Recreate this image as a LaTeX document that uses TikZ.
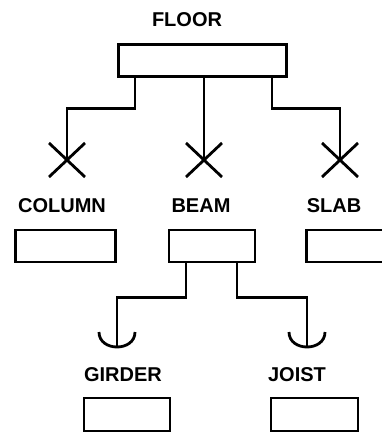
\documentclass[tikz,border=0pt]{standalone}
\usepackage{fontspec}
\setmainfont{Liberation Sans}
\begin{document}
\begin{tikzpicture}[x=1pt, y=-1pt, line width=2.8pt,
    box/.style={draw, inner sep=0pt, minimum height=32pt},
    tagtext/.style={inner sep=0pt, font=\fontsize{20}{20}\selectfont\bfseries}]
    % picture frame
    \useasboundingbox (0, 0) rectangle (382, 433);
    \clip (0, 0) rectangle (382, 433);
    % top entity
    \node [tagtext] (floorname) at (187, 20) {FLOOR};
    \node [box, minimum width=168pt] (floorbox) at (202.5, 60.5) {};
    % crow marks
    \coordinate (columnmark) at (67, 160);
    \coordinate (beammark) at (204, 160);
    \coordinate (slabmark) at (340, 160);
    \foreach \m in {columnmark, beammark, slabmark} {
        \draw (\m) ++(-18, -17) -- ++(36, 34);
        \draw (\m) ++(-18, 17) -- ++(36, -34);
    }
    % floor connectors
    \draw ([xshift=-67.5pt]floorbox.south) -- ++(0, 31) -| (columnmark);
    \draw (floorbox.south -| beammark) -- (beammark);
    \draw ([xshift=69.5pt]floorbox.south) -- ++(0, 31) -| (slabmark);
    % second row
    \node [tagtext] (columnname) at (62, 206) {COLUMN};
    \node [tagtext] (beamname) at (201, 206) {BEAM};
    \node [tagtext] (slabname) at (334, 206) {SLAB};
    \node [box, minimum width=100pt] (columnbox) at (65.5, 246) {};
    \node [box, minimum width=86pt] (beambox) at (212, 246) {};
    \node [box, minimum width=100pt] (slabbox) at (356.5, 246) {};
    % hook marks
    \coordinate (girdermark) at (117, 347);
    \coordinate (joistmark) at (307, 347);
    \foreach \m in {girdermark, joistmark} {
        \draw (\m) ++(-18, -15) .. controls +(0, 20) and +(0, 20) .. +(36, 0);
    }
    % beam connectors
    \draw ([xshift=-26pt]beambox.south) -- ++(0, 34) -| (girdermark);
    \draw ([xshift=25pt]beambox.south) -- ++(0, 34) -| (joistmark);
    % third row
    \node [tagtext] (girdername) at (123, 375) {GIRDER};
    \node [tagtext] (joistname) at (297, 375) {JOIST};
    \node [box, minimum width=86pt, minimum height=33pt] (girderbox) at (127, 414.5) {};
    \node [box, minimum width=87pt, minimum height=33pt] (joistbox) at (314.5, 414.5) {};
\end{tikzpicture}
\end{document}
